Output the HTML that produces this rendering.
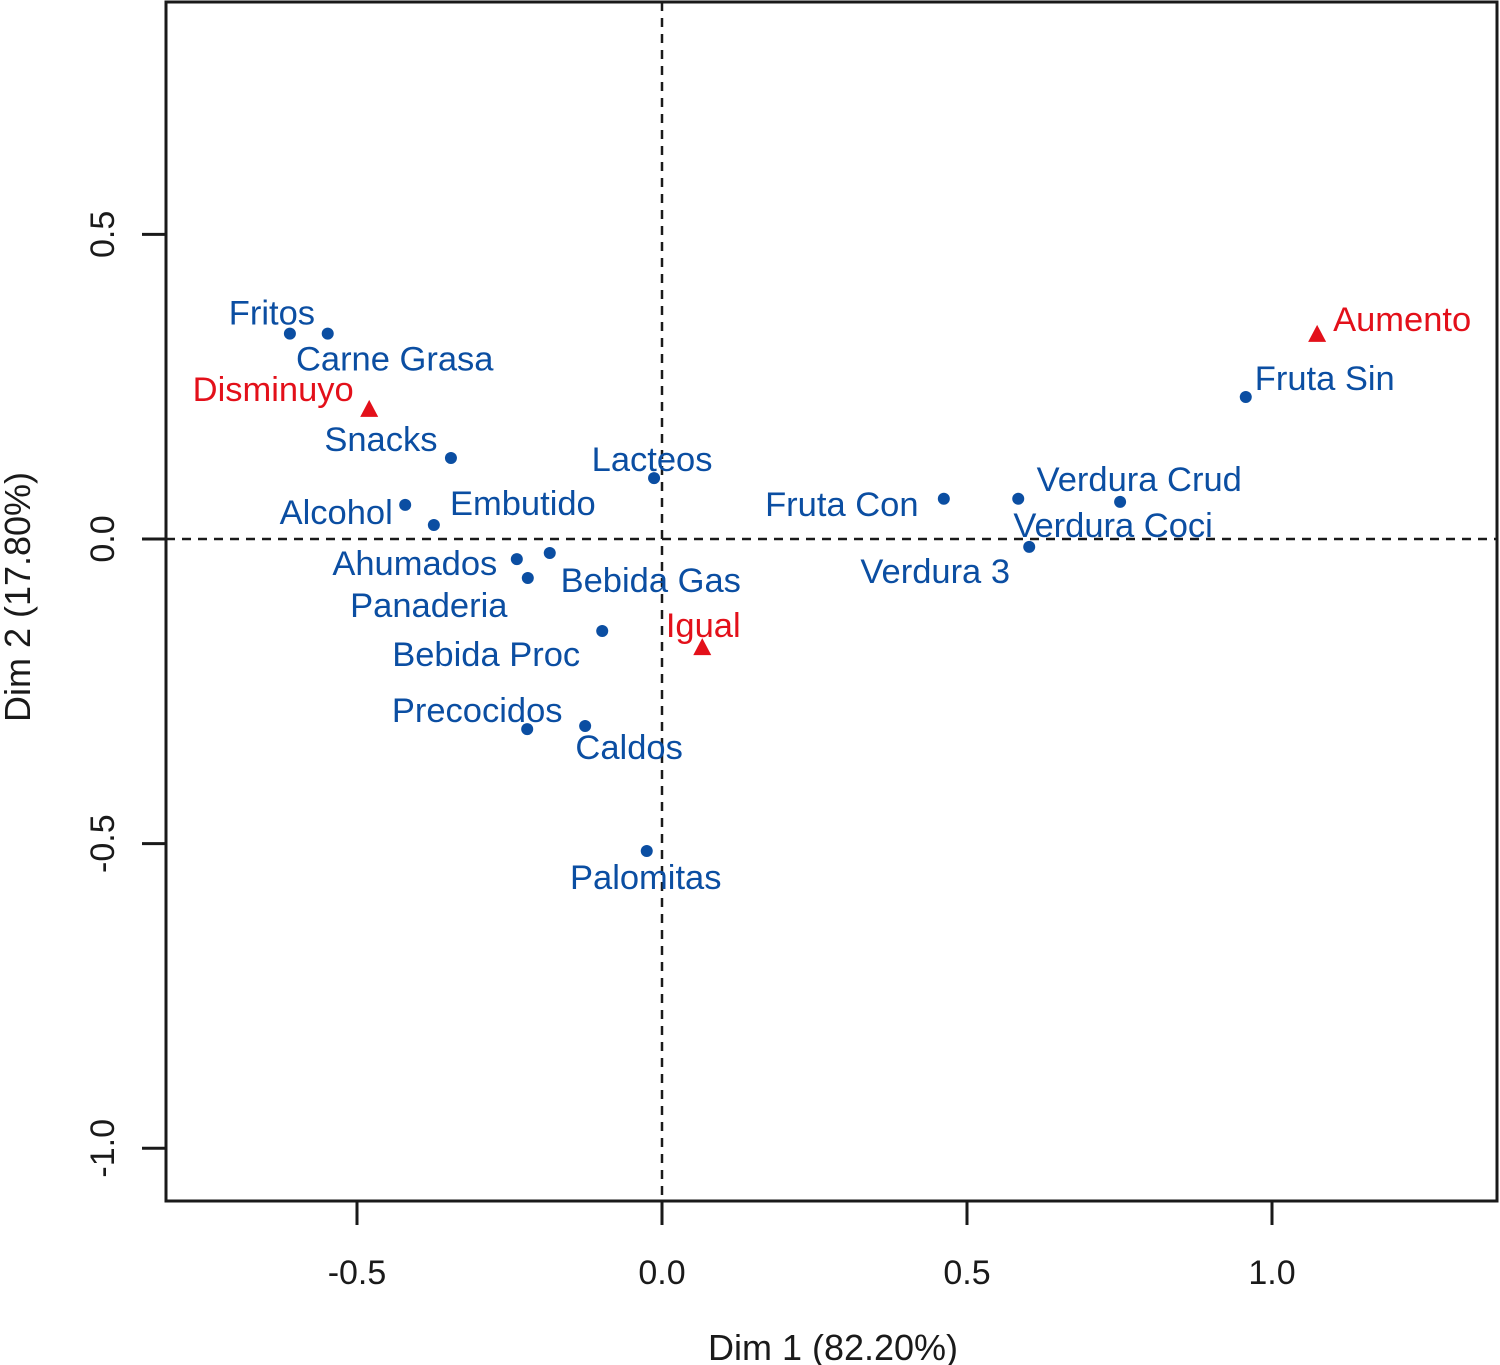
<!DOCTYPE html>
<html><head><meta charset="utf-8"><style>
html,body{margin:0;padding:0;background:#fff}
svg{display:block}
text{font-family:"Liberation Sans",sans-serif}
</style></head><body>
<svg id="chart" width="1500" height="1365" viewBox="0 0 1500 1365" xmlns="http://www.w3.org/2000/svg">
<rect x="166" y="2" width="1331" height="1199" fill="none" stroke="#1a1a1a" stroke-width="3"/>
<g id="axes"></g>
<g id="marks"></g>
<text x="833" y="1360" font-size="36" text-anchor="middle" fill="#1a1a1a">Dim 1 (82.20%)</text>
<text transform="translate(30,597) rotate(-90)" font-size="36" text-anchor="middle" fill="#1a1a1a">Dim 2 (17.80%)</text>
</svg>
<script>
const rowNames = ["Fritos","Carne Grasa","Snacks","Alcohol","Embutido","Lacteos","Ahumados","Bebida Gas","Panaderia","Bebida Proc","Precocidos","Caldos","Palomitas","Fruta Con","Verdura Crud","Verdura Coci","Verdura 3","Fruta Sin"];
const rowDim1 = [-0.610,-0.548,-0.346,-0.421,-0.374,-0.013,-0.238,-0.184,-0.220,-0.098,-0.221,-0.126,-0.025,0.462,0.584,0.751,0.602,0.957];
const rowDim2 = [0.337,0.337,0.133,0.056,0.023,0.100,-0.033,-0.023,-0.064,-0.151,-0.312,-0.307,-0.512,0.066,0.066,0.061,-0.013,0.233];
const colNames = ["Disminuyo","Igual","Aumento"];
const colDim1 = [-0.480,0.066,1.074];
const colDim2 = [0.212,-0.179,0.335];
const xTicks = [-0.5,0.0,0.5,1.0];
const yTicks = [0.5,0.0,-0.5,-1.0];
const tickLabelsX = ["-0.5","0.0","0.5","1.0"];
const tickLabelsY = ["0.5","0.0","-0.5","-1.0"];

const rowOff = [[-18,-20],[67,26],[-70,-18],[-69,8],[89,-21],[-2,-18],[-102,5],[101,28],[-99,28],[-116,24],[-50,-18],[44,22],[-1,27],[-102,6],[121,-19],[-7,24],[-94,25],[79,-18]];
const colOff = [[-96,-20],[1,-22],[85,-15]];

const X = v => 662 + v*610;
const Y = v => 539 - v*609.3;
const NS = "http://www.w3.org/2000/svg";
const axes = document.getElementById('axes');
const marks = document.getElementById('marks');
function mk(tag, attrs, parent){const e=document.createElementNS(NS,tag);for(const k in attrs)e.setAttribute(k,attrs[k]);parent.appendChild(e);return e;}

xTicks.forEach((t,i)=>{
  const l=mk('line',{x1:X(t),x2:X(t),y1:1201,y2:1225,stroke:'#1a1a1a','stroke-width':3},axes);
  
  
  const tx=mk('text',{x:X(t),y:1284,'font-size':34,'text-anchor':'middle',fill:'#1a1a1a'},axes);
  tx.textContent=tickLabelsX[i];
  
  
});
yTicks.forEach((t,i)=>{
  const l=mk('line',{x1:142,x2:166,y1:Y(t),y2:Y(t),stroke:'#1a1a1a','stroke-width':3},axes);
  
  
  const tx=mk('text',{transform:`translate(114,${Y(t)}) rotate(-90)`,'font-size':34,'text-anchor':'middle',fill:'#1a1a1a'},axes);
  tx.textContent=tickLabelsY[i];
  
  
});
const hz=mk('line',{x1:166,x2:1497,y1:Y(0),y2:Y(0),stroke:'#1a1a1a','stroke-width':2.5,'stroke-dasharray':'9,7'},axes);


const vt=mk('line',{x1:X(0),x2:X(0),y1:2,y2:1201,stroke:'#1a1a1a','stroke-width':2.5,'stroke-dasharray':'9,7'},axes);



rowNames.forEach((n,i)=>{
  const cx=X(rowDim1[i]), cy=Y(rowDim2[i]);
  const c=mk('circle',{cx:cx,cy:cy,r:6,fill:'#0b4ea2'},marks);
  
  
  const t=mk('text',{x:cx+rowOff[i][0],y:cy+rowOff[i][1],'font-size':34.5,'text-anchor':'middle','dominant-baseline':'central',fill:'#0b4ea2'},marks);
  t.textContent=n;
  
  
});
colNames.forEach((n,i)=>{
  const cx=X(colDim1[i]), cy=Y(colDim2[i]);
  const p=mk('polygon',{points:`${cx},${cy-10} ${cx-9},${cy+7} ${cx+9},${cy+7}`,fill:'#e3101a'},marks);
  
  
  const t=mk('text',{x:cx+colOff[i][0],y:cy+colOff[i][1],'font-size':34.5,'text-anchor':'middle','dominant-baseline':'central',fill:'#e3101a'},marks);
  t.textContent=n;
  
  
});
</script>
</body></html>
